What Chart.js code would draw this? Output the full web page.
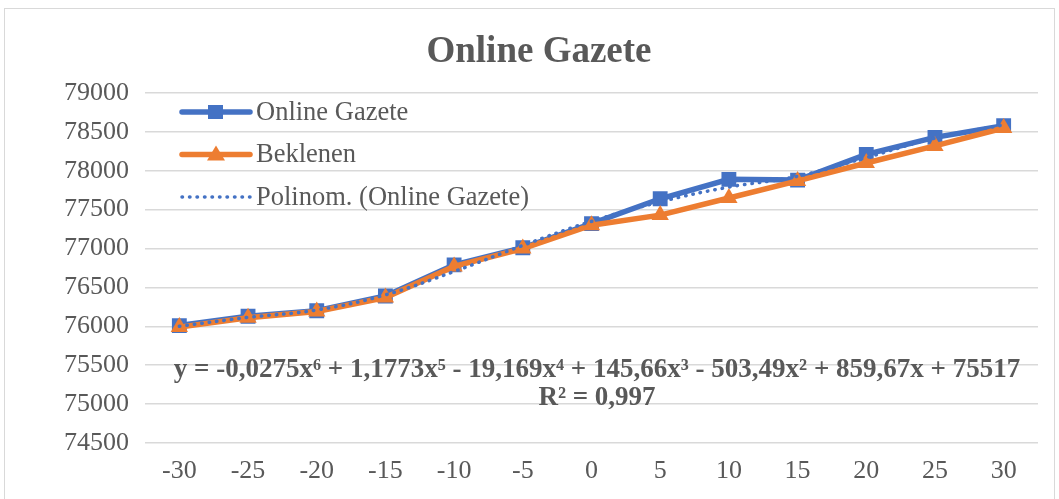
<!DOCTYPE html>
<html>
<head>
<meta charset="utf-8">
<script src="https://cdn.jsdelivr.net/npm/chart.js@4/dist/chart.umd.min.js"></script>
<style>
  html, body { margin: 0; padding: 0; background: #fff; }
  #wrap { width: 1059px; height: 499px; }
</style>
</head>
<body>
<div id="wrap"><canvas id="chart" width="1059" height="499"></canvas></div>
<script>
const labels = ["-30", "-25", "-20", "-15", "-10", "-5", "0", "5", "10", "15", "20", "25", "30"];
const onlineGazete = [76010, 76130, 76200, 76390, 76790, 77010, 77320, 77640, 77890, 77880, 78210, 78430, 78580];
const beklenen = [75990, 76110, 76190, 76370, 76770, 77000, 77300, 77430, 77650, 77870, 78100, 78320, 78550];
// trendline
const polinom = [76000, 76115, 76210, 76405, 76705, 77040, 77350, 77600, 77790, 77930, 78170, 78420, 78590];
const yTicks = [74500, 75000, 75500, 76000, 76500, 77000, 77500, 78000, 78500, 79000];

const title = "Online Gazete";
const equation = "y = -0,0275x⁶ + 1,1773x⁵ - 19,169x⁴ + 145,66x³ - 503,49x² + 859,67x + 75517";
const rSquared = "R² = 0,997";

const BLUE = "#4472C4";
const ORANGE = "#ED7D31";
const TEXT = "#595959";
const SERIF = "'Liberation Serif', 'DejaVu Serif', serif";

const extras = {
  id: "extras",
  beforeDraw(chart) {
    const ctx = chart.ctx;
    ctx.save();
    ctx.fillStyle = "#fff";
    ctx.fillRect(0, 0, chart.width, chart.height);
    ctx.strokeStyle = "#d9d9d9";
    ctx.lineWidth = 1;
    ctx.strokeRect(4.5, 8.5, 1050, 510);
    ctx.restore();
  },
  afterDraw(chart) {
    const ctx = chart.ctx;
    ctx.save();
    // title
    ctx.fillStyle = TEXT;
    ctx.font = "bold 37px " + SERIF;
    ctx.textAlign = "center";
    ctx.textBaseline = "middle";
    ctx.fillText(title, 539, 52);

    // trendline label
    ctx.fillStyle = TEXT;
    ctx.font = "bold 27px " + SERIF;
    ctx.fillText(equation, 597, 370);
    ctx.fillText(rSquared, 597, 398);

    // legend inside the plot
    const rows = [
      { text: "Online Gazete", color: BLUE, width: 5.5, marker: "rect" },
      { text: "Beklenen", color: ORANGE, width: 5.5, marker: "triangle" },
      { text: "Polinom. (Online Gazete)", color: BLUE, width: 3.5, marker: null },
    ];
    rows.forEach((r, i) => {
      const y = 112 + i * 42.5;
      ctx.strokeStyle = r.color;
      ctx.fillStyle = r.color;
      ctx.lineWidth = r.width;
      ctx.lineCap = "round";
      ctx.setLineDash(r.marker ? [] : [0.5, 7]);
      ctx.beginPath();
      ctx.moveTo(182, y);
      ctx.lineTo(250, y);
      ctx.stroke();
      ctx.setLineDash([]);
      if (r.marker === "rect") {
        ctx.fillRect(208, y - 7, 15, 14);
      } else if (r.marker === "triangle") {
        ctx.beginPath();
        ctx.moveTo(216, y - 9);
        ctx.lineTo(225, y + 6);
        ctx.lineTo(207, y + 6);
        ctx.closePath();
        ctx.fill();
      }
      ctx.fillStyle = TEXT;
      ctx.font = "26.5px " + SERIF;
      ctx.textAlign = "left";
      ctx.fillText(r.text, 256, y + 1);
    });
    ctx.restore();
  },
};

new Chart(document.getElementById("chart"), {
  type: "line",
  data: {
    labels,
    datasets: [
      {
        label: "Polinom. (Online Gazete)",
        data: polinom,
        borderColor: BLUE,
        borderWidth: 3.5,
        borderDash: [0.5, 7],
        borderCapStyle: "round",
        pointRadius: 0,
        tension: 0.4,
        fill: false,
        order: 0,
      },
      {
        label: "Beklenen",
        data: beklenen,
        borderColor: ORANGE,
        backgroundColor: ORANGE,
        borderWidth: 5.5,
        pointStyle: "triangle",
        pointRadius: 10,
        pointBorderWidth: 0,
        tension: 0,
        fill: false,
        order: 1,
      },
      {
        label: "Online Gazete",
        data: onlineGazete,
        borderColor: BLUE,
        backgroundColor: BLUE,
        borderWidth: 5.5,
        pointStyle: "rect",
        pointRadius: 10.5,
        pointBorderWidth: 0,
        tension: 0,
        fill: false,
        order: 2,
      },
    ],
  },
  options: {
    responsive: false,
    animation: false,
    layout: { padding: { left: 0, top: 93, right: 21, bottom: 0 } },
    plugins: {
      legend: { display: false },
      title: { display: false },
      tooltip: { enabled: false },
    },
    scales: {
      x: {
        offset: true,
        grid: { display: false, drawTicks: false },
        border: { display: false },
        ticks: { color: TEXT, font: { family: SERIF, size: 26 }, padding: 13, maxRotation: 0 },
        afterFit: (scale) => { scale.height = 56; },
      },
      y: {
        min: 74500,
        max: 79000,
        afterBuildTicks: (scale) => { scale.ticks = yTicks.map((v) => ({ value: v })); },
        grid: { color: "#d9d9d9", lineWidth: 1.5, drawTicks: false },
        border: { display: false },
        ticks: { color: TEXT, font: { family: SERIF, size: 26 }, padding: 16, callback: (v) => String(v) },
        afterFit: (scale) => { scale.width = 145; },
      },
    },
  },
  plugins: [extras],
});
</script>
</body>
</html>
